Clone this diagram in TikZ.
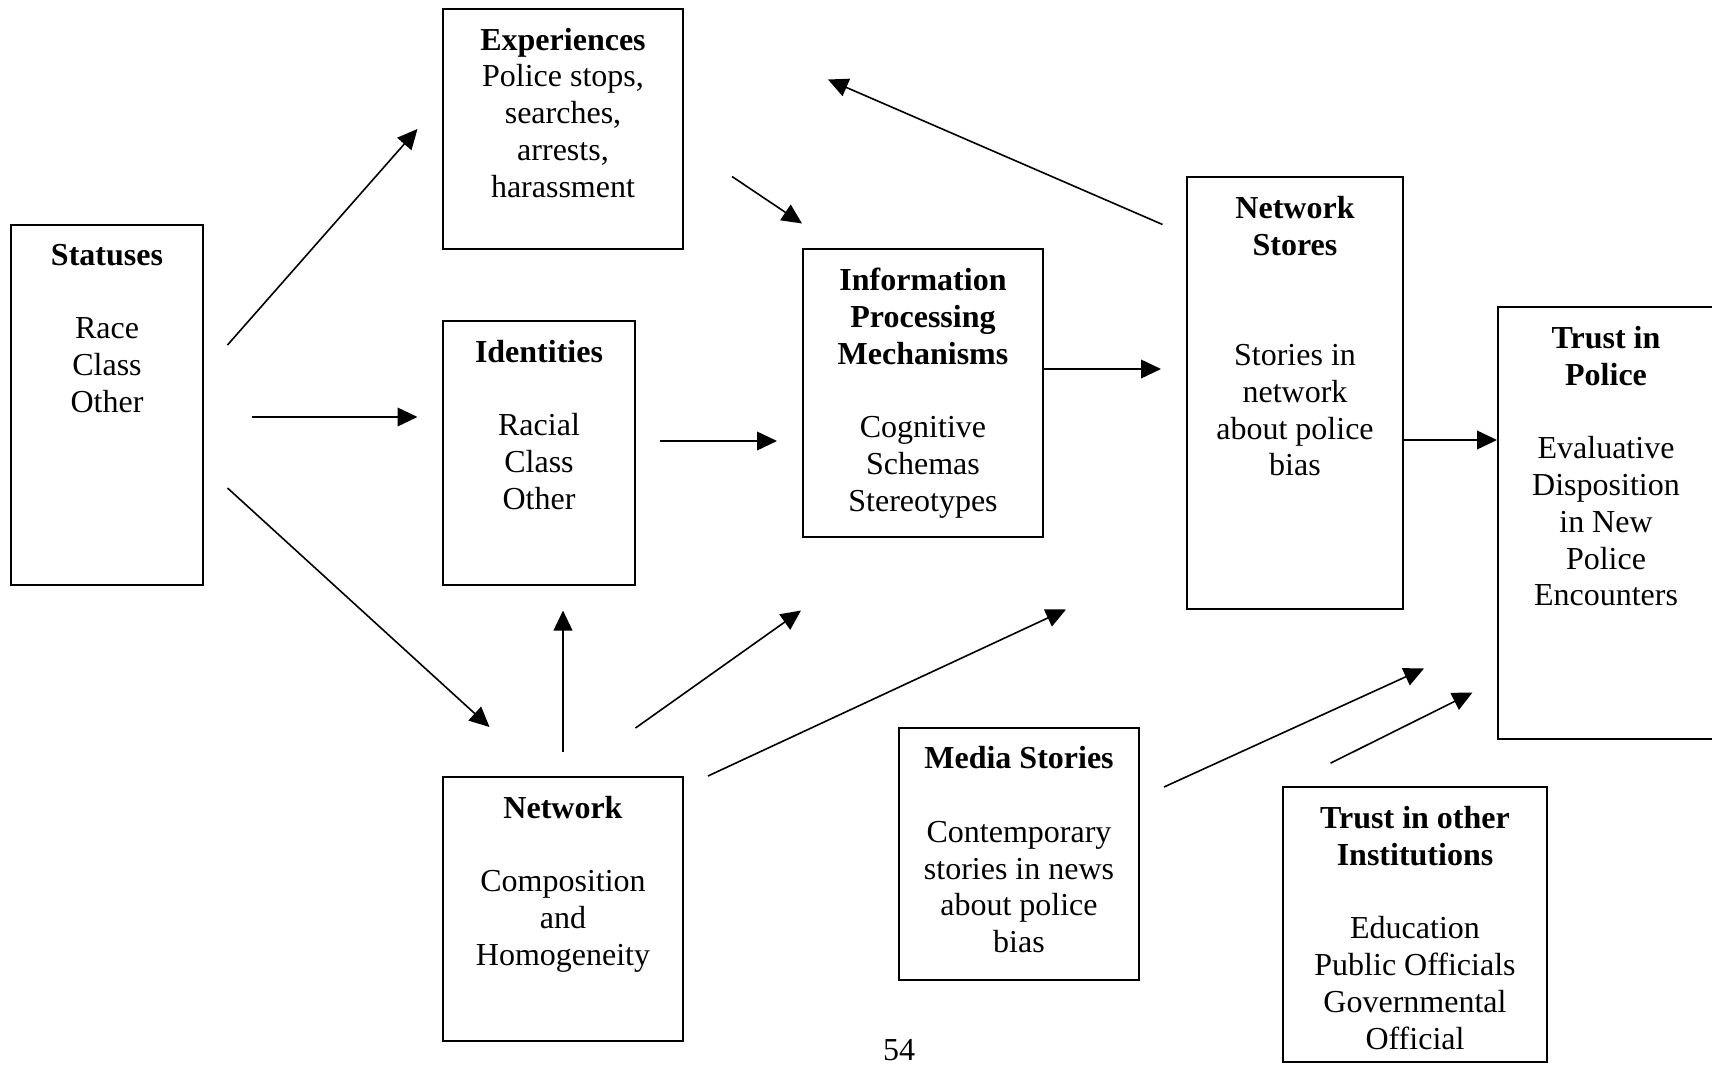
\documentclass[tikz,border=0pt]{standalone}
\usepackage{fontspec}
\setmainfont{Liberation Serif}
\usetikzlibrary{arrows.meta, positioning, calc}

\begin{document}
\begin{tikzpicture}[
    x=0.375pt, y=-0.375pt,
    box/.style={rectangle, draw=black, line width=0.75pt, inner sep=0pt},
    txt/.style={inner sep=0pt, font=\fontsize{12pt}{13.8pt}\selectfont},
    inside/.style={txt, anchor=north, yshift=-7.3pt, align=center},
    arrow/.style={-{Triangle[length=7.5pt, width=7pt]}, line width=0.6pt, black}
]
    \useasboundingbox (0,0) rectangle (1712,1065);
    \clip (0,0) rectangle (1712,1065);

    \node[box, minimum width=72pt, minimum height=135pt,
          label={[inside]north:{\textbf{Statuses}\\[13.8pt]Race\\Class\\Other}}] (status) at (107,405) {};
    \node[box, minimum width=90pt, minimum height=90pt,
          label={[inside]north:{\textbf{Experiences}\\Police stops,\\searches,\\arrests,\\harassment}}] (exp) at (563,129) {};
    \node[box, minimum width=72pt, minimum height=99pt,
          label={[inside]north:{\textbf{Identities}\\[13.8pt]Racial\\Class\\Other}}] (ident) at (539,453) {};
    \node[box, minimum width=90pt, minimum height=108pt,
          label={[inside]north:{\textbf{Information}\\\textbf{Processing}\\\textbf{Mechanisms}\\[13.8pt]Cognitive\\Schemas\\Stereotypes}}] (info) at (923,393) {};
    \node[box, minimum width=81pt, minimum height=162pt,
          label={[inside]north:{\textbf{Network}\\\textbf{Stores}\\[27.6pt]Stories in\\network\\about police\\bias}}] (nstore) at (1295,393) {};
    \node[box, minimum width=81pt, minimum height=162pt,
          label={[inside]north:{\textbf{Trust in}\\\textbf{Police}\\[13.8pt]Evaluative\\Disposition\\in New\\Police\\Encounters}}] (trust) at (1606,523) {};
    \node[box, minimum width=90pt, minimum height=99pt,
          label={[inside]north:{\textbf{Network}\\[13.8pt]Composition\\and\\Homogeneity}}] (net) at (563,909) {};
    \node[box, minimum width=90pt, minimum height=94.5pt,
          label={[inside]north:{\textbf{Media Stories}\\[13.8pt]Contemporary\\stories in news\\about police\\bias}}] (media) at (1019,853.5) {};
    \node[box, minimum width=99pt, minimum height=103pt,
          label={[inside]north:{\textbf{Trust in other}\\\textbf{Institutions}\\[13.8pt]Education\\Public Officials\\Governmental\\Official}}] (tother) at (1415,924.5) {};
    \node[txt] (page) at (899,1050) {54};

    \draw[arrow] ($(status.east)+(23.5,-60)$) -- ($(exp.west)+(-24.5,0)$);
    \draw[arrow] ($(status.east)+(48,12)$) -- ($(ident.west)+(-24.5,-36)$);
    \draw[arrow] ($(status.east)+(23.5,83)$) -- ($(net.north)+(-73.5,-49)$);
    \draw[arrow] ($(exp.east)+(48,47.5)$) -- ($(info.north west)+(0,-24.5)$);
    \draw[arrow] ($(ident.east)+(23.5,-12)$) -- ($(info.west)+(-25,48)$);
    \draw[arrow] ($(net.north)+(0,-24)$) -- ($(ident.south)+(24,24.5)$);
    \draw[arrow] ($(net.north east)+(-48.5,-48)$) -- ($(info.south west)+(-1,72.5)$);
    \draw[arrow] ($(net.north east)+(24,0)$) -- ($(nstore.south west)+(-120,-0.5)$);
    \draw[arrow] ($(nstore.north west)+(-23.5,48.5)$) -- ($(exp.north east)+(144,71.5)$);
    \draw[arrow] ($(info.east)+(0,-24)$) -- ($(nstore.west)+(-25,-24)$);
    \draw[arrow] ($(nstore.east)+(0,47)$) -- ($(trust.west)+(0,-83)$);
    \draw[arrow] ($(media.north east)+(24,60.5)$) -- ($(trust.south west)+(-73,-71.5)$);
    \draw[arrow] ($(tother.north)+(-84.5,-23)$) -- ($(trust.south west)+(-24.5,-47.5)$);
\end{tikzpicture}
\end{document}
